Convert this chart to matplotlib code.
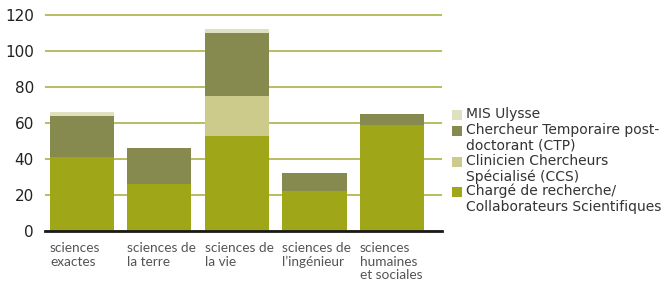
import matplotlib.pyplot as plt
import matplotlib.patches as patches
import numpy as np

# Data
categories = ["sciences\nexactes", "sciences de\nla terre", "sciences de\nla vie",
              "sciences de\nl\u2019ing\u00e9nieur", "sciences\nhumaines\net sociales"]
charge_recherche = [41, 26, 53, 22, 59]
ccs = [0, 0, 22, 0, 0]
ctp = [23, 20, 35, 10, 6]
mis_ulysse = [2, 0, 2, 0, 0]

series_names = ["Charg\u00e9 de recherche/\nCollaborateurs Scientifiques",
                "Clinicien Chercheurs\nSp\u00e9cialis\u00e9 (CCS)",
                "Chercheur Temporaire post-\ndoctorant (CTP)",
                "MIS Ulysse"]
series = [charge_recherche, ccs, ctp, mis_ulysse]
colors = ["#9fa617", "#cccb8b", "#868a4f", "#e0e1c1"]

plt.rcParams['font.family'] = ['DejaVu Sans']

fig = plt.figure(figsize=(6.65, 2.82), dpi=100)
# y = 0 at pixel 231, y = 120 at pixel 15 ; a bit of headroom so the top grid line is not clipped
ax = fig.add_axes([45 / 665, 51 / 282, 397 / 665, 217.8 / 282])

x = np.arange(len(categories))
width = 0.826
bottom = np.zeros(len(categories))
for vals, col, name in zip(series, colors, series_names):
    ax.bar(x, vals, width, bottom=bottom, color=col, label=name, zorder=3)
    bottom += np.array(vals)

ax.set_xlim(-0.477, 4.645)
ax.set_ylim(0, 121)
ax.set_yticks(range(0, 121, 20))
ax.yaxis.grid(True, color="#aab248", linewidth=1.2, zorder=0)
ax.tick_params(axis="y", length=0, pad=8, labelsize=11, labelcolor="#222222")

ax.set_xticks(x - width / 2)
ax.set_xticklabels(categories, ha="left", va="top", fontsize=9.8, color="#555555",
                   linespacing=1.15, family=["Lato", "DejaVu Sans"])
ax.tick_params(axis="x", length=0, pad=8)

for s in ["top", "right", "left"]:
    ax.spines[s].set_visible(False)
ax.spines["bottom"].set_color("#1a1a1a")
ax.spines["bottom"].set_linewidth(2)
ax.spines["bottom"].set_zorder(4)

# Legend drawn by hand so the square sits on the first line of each label
y_rows = [115, 131, 162, 192]
order = [3, 2, 1, 0]
for yr, i in zip(y_rows, order):
    fig.patches.append(patches.Rectangle((452 / 665, 1 - (yr + 5) / 282), 10 / 665, 10 / 282,
                                         transform=fig.transFigure, facecolor=colors[i],
                                         edgecolor="none"))
    fig.text(466 / 665, 1 - (yr - 8) / 282, series_names[i], ha="left", va="top",
             fontsize=10, color="#333333", linespacing=1.1)

fig.savefig("out.png", dpi=100)
